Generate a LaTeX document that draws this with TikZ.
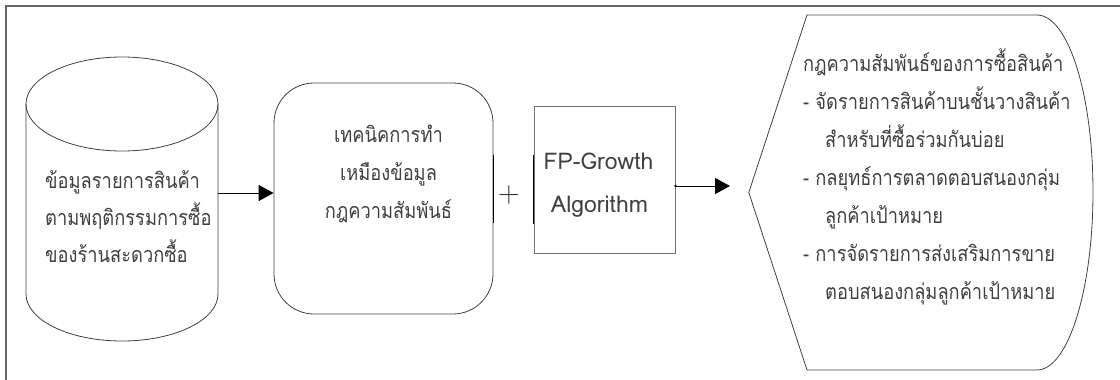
\documentclass[tikz,border=0pt]{standalone}
\usepackage{fontspec}
\newfontfamily\thai[Script=Thai,FakeStretch=0.85]{Loma}
\newfontfamily\thailat[Script=Thai]{Loma}
\usetikzlibrary{arrows.meta}
\begin{document}
\begin{tikzpicture}[x=1pt,y=-1pt,
  txt/.style={font=\thai\fontsize{21.5}{38}\selectfont, text=black!75, inner sep=0pt},
  lw/.style={txt, anchor=base west},
  lc/.style={txt, anchor=base},
  shp/.style={draw=black!75, line width=0.8pt},
  arr/.style={draw=black, line width=1pt, -{Triangle[length=15pt,width=16pt]}},
  heavy/.style={draw=black, line width=1.6pt},
]
\useasboundingbox (0,0) rectangle (1120,380);
\draw[draw=black!60, line width=1.5pt] (1120,6) -- (6,6) -- (6,380);

% database cylinder
\node[minimum width=192pt, minimum height=284pt, inner sep=0pt] (db) at (122,199) {};
\draw[shp] (122,104) ellipse [x radius=96, y radius=47];
\draw[shp] (26,104) -- (26,294) .. controls (26,320) and (69,341) .. (122,341)
  .. controls (175,341) and (218,320) .. (218,294) -- (218,104);
\node[lw] (db1) at (45,188) {ข้อมูลรายการสินค้า};
\node[lw] (db2) at (45,225) {ตามพฤติกรรมการซื้อ};
\node[lw] (db3) at (45,262) {ของร้านสะดวกซื้อ};

% mining technique box
\node[shp, rounded corners=40pt, minimum width=219pt, minimum height=231pt] (rb) at (383.5,198.5) {};
\node[lc] (rb1) at (388.5,142) {เทคนิคการทำ};
\node[lc] (rb2) at (388.5,180) {เหมืองข้อมูล};
\node[lc] (rb3) at (388.5,218) {กฎความสัมพันธ์};
\coordinate (a1) at (218,193);
\draw[arr] (a1) -- (rb.west |- a1);
\draw[heavy] (rb.east |- 0,155) -- (rb.east |- 0,223);

% plus
\node[inner sep=0pt, text=black!80, font=\fontsize{30}{30}\selectfont] (plus) at (509,195) {+};

% FP-Growth box
\node[draw=black!55, line width=1pt, minimum width=141pt, minimum height=147pt] (fp) at (604.5,179.5) {};
\node[lc, font=\thailat\fontsize{23}{38}\selectfont] (fp1) at (598.5,169) {FP-Growth};
\node[lc, font=\thailat\fontsize{23}{38}\selectfont] (fp2) at (599.5,212) {Algorithm};
\draw[heavy] (fp.west |- 0,155) -- (fp.west |- 0,224);
\coordinate (a2s) at (675,186);
\coordinate (a2e) at (730,186);
\fill (fp.east |- a2s) circle (1.4pt);
\draw[arr] (fp.east |- a2s) -- (a2e);

% output display shape
\node[minimum width=344pt, minimum height=355pt, inner sep=0pt] (out) at (921,192.5) {};
\draw[shp] (807,15) -- (1037,15) .. controls (1068,15) and (1093,94) .. (1093,192)
  .. controls (1093,290) and (1068,370) .. (1037,370) -- (807,370) -- (out.west) -- cycle;
\node[lw] (o1) at (803,71) {กฎความสัมพันธ์ของการซื้อสินค้า};
\node[lw] (o2) at (803,109) {- จัดรายการสินค้าบนชั้นวางสินค้า};
\node[lw] (o3) at (825,147) {สำหรับที่ซื้อร่วมกันบ่อย};
\node[lw] (o4) at (803,185) {- กลยุทธ์การตลาดตอบสนองกลุ่ม};
\node[lw] (o5) at (825,223) {ลูกค้าเป้าหมาย};
\node[lw] (o6) at (803,261) {- การจัดรายการส่งเสริมการขาย};
\node[lw] (o7) at (825,299) {ตอบสนองกลุ่มลูกค้าเป้าหมาย};
\end{tikzpicture}
\end{document}
